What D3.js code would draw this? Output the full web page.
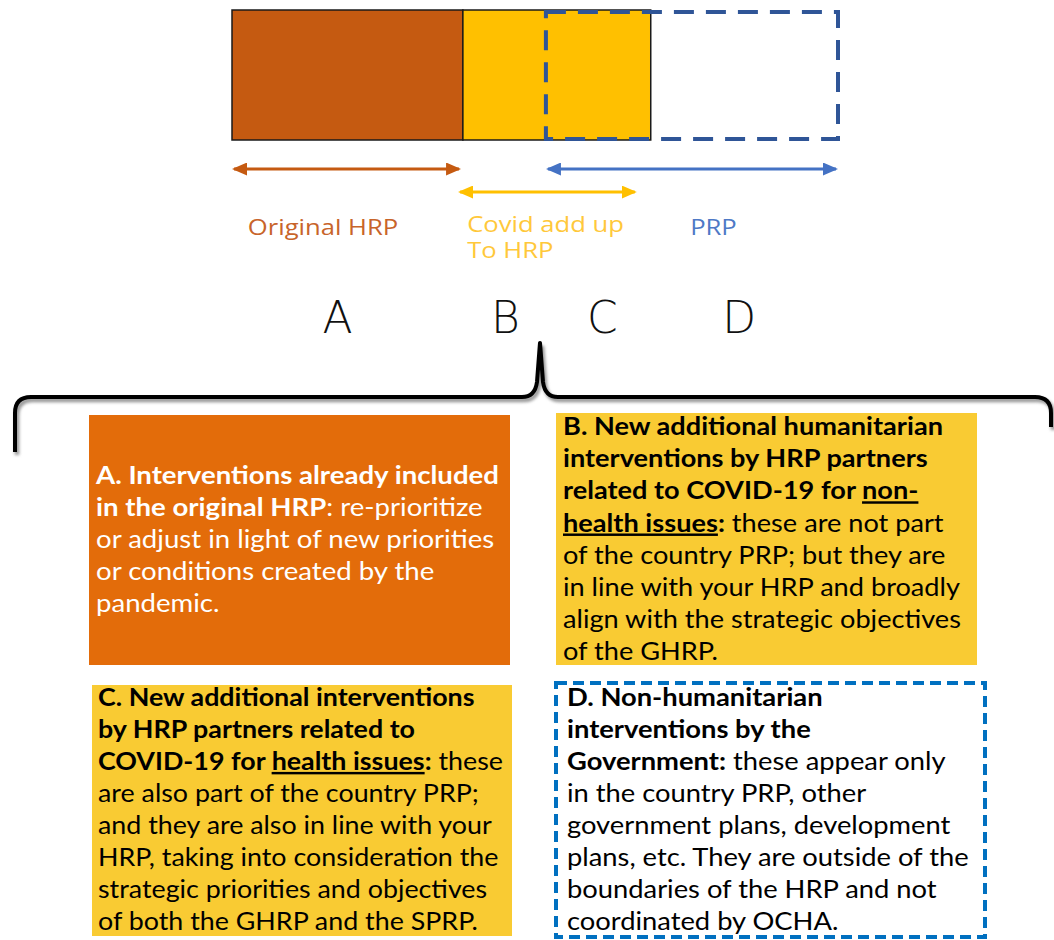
<!DOCTYPE html>
<html>
<head>
<meta charset="utf-8">
<script src="https://cdn.jsdelivr.net/npm/d3@7"></script>
<style>
  body { margin: 0; background: #fff; }
</style>
</head>
<body>
<div id="chart"></div>
<script>
// ---- data ----
const barKeys = ["hrp", "covid", "prp"];
const barStart = [0, 38.1, 51.8];
const barEnd = [38.1, 69.1, 100];
const arrowStart = [0, 37.3, 51.8];
const arrowEnd = [37.8, 66.8, 100];
const labelLines = [["Original HRP"], ["Covid add up", "To HRP"], ["PRP"]];
const labelPos = [2.6, 38.8, 75.6];
const letters = ["A", "B", "C", "D"];
const letterPos = [17.4, 45.1, 61.1, 83.7];

// text of the four boxes, one array per line, segments: t = text, b = bold, u = underline
const boxAText = [
  [{ t: "A. Interventions already included", b: 1 }],
  [{ t: "in the original HRP", b: 1 }, { t: ": re-prioritize" }],
  [{ t: "or adjust in light of new priorities" }],
  [{ t: "or conditions created by the" }],
  [{ t: "pandemic." }],
];
const boxBText = [
  [{ t: "B. New additional humanitarian", b: 1 }],
  [{ t: "interventions by HRP partners", b: 1 }],
  [{ t: "related to COVID-19 for ", b: 1 }, { t: "non-", b: 1, u: 1 }],
  [{ t: "health issues", b: 1, u: 1 }, { t: ":", b: 1 }, { t: " these are not part" }],
  [{ t: "of the country PRP; but they are" }],
  [{ t: "in line with your HRP and broadly" }],
  [{ t: "align with the strategic objectives" }],
  [{ t: "of the GHRP." }],
];
const boxCText = [
  [{ t: "C. New additional interventions", b: 1 }],
  [{ t: "by HRP partners related to", b: 1 }],
  [{ t: "COVID-19 for ", b: 1 }, { t: "health issues", b: 1, u: 1 }, { t: ":", b: 1 }, { t: " these" }],
  [{ t: "are also part of the country PRP;" }],
  [{ t: "and they are also in line with your" }],
  [{ t: "HRP, taking into consideration the" }],
  [{ t: "strategic priorities and objectives" }],
  [{ t: "of both the GHRP and the SPRP." }],
];
const boxDText = [
  [{ t: "D. Non-humanitarian", b: 1 }],
  [{ t: "interventions by the", b: 1 }],
  [{ t: "Government:", b: 1 }, { t: " these appear only" }],
  [{ t: "in the country PRP, other" }],
  [{ t: "government plans, development" }],
  [{ t: "plans, etc. They are outside of the" }],
  [{ t: "boundaries of the HRP and not" }],
  [{ t: "coordinated by OCHA." }],
];

// ---- styles / layout ----
const width = 1054, height = 940;
const barColor = { hrp: "#C55A11", covid: "#FFC000", prp: "#2F5597" };
const arrowColor = { hrp: "#C55A11", covid: "#FFC000", prp: "#4472C4" };
const labelColor = { hrp: "#C8642A", covid: "#FFC83A", prp: "#4E79C6" };
const textFont = "Lato, 'Open Sans', sans-serif";

const boxes = [
  { lines: boxAText, x: 89, y: 415, w: 421, h: 250, fill: "#E36C0A", color: "#fff", tx: 96, ty: 484, lh: 32, target: 403 },
  { lines: boxBText, x: 556, y: 413, w: 421, h: 252, fill: "#F9CB33", color: "#000", tx: 563, ty: 435, lh: 32.2, target: 398 },
  { lines: boxCText, x: 92, y: 685, w: 420, h: 251, fill: "#F9CB33", color: "#000", tx: 98, ty: 706, lh: 32, target: 405 },
  { lines: boxDText, x: 556, y: 683, w: 429, h: 254, fill: "#fff", color: "#000", tx: 567, ty: 706, lh: 32, target: 402, dashed: true },
];

const svg = d3.select("#chart").append("svg")
  .attr("width", width)
  .attr("height", height)
  .style("font-family", textFont);

const x = d3.scaleLinear().domain([0, 100]).range([232, 838]);

const defs = svg.append("defs");
barKeys.forEach((k) => {
  [["s", "M15,0 L0,6.5 L15,13 z"], ["e", "M0,0 L15,6.5 L0,13 z"]].forEach(([side, p]) => {
    defs.append("marker")
      .attr("id", `m-${k}-${side}`)
      .attr("markerUnits", "userSpaceOnUse")
      .attr("markerWidth", 15).attr("markerHeight", 13)
      .attr("refX", side === "s" ? 2 : 13).attr("refY", 6.5)
      .attr("orient", "0")
      .append("path").attr("d", p).attr("fill", arrowColor[k]);
  });
});
defs.append("filter").attr("id", "shadow")
  .append("feGaussianBlur").attr("stdDeviation", 1.6);

// top bar
const bars = barKeys.map((k, i) => ({ key: k, start: barStart[i], end: barEnd[i] }));
svg.selectAll(".seg")
  .data(bars.filter((d) => d.key !== "prp"))
  .join("rect")
  .attr("class", "seg")
  .attr("x", (d) => x(d.start))
  .attr("y", 10)
  .attr("width", (d) => x(d.end) - x(d.start))
  .attr("height", 130)
  .attr("fill", (d) => barColor[d.key])
  .attr("stroke", "#1a1a1a")
  .attr("stroke-width", 1.5);

svg.selectAll(".prp")
  .data(bars.filter((d) => d.key === "prp"))
  .join("rect")
  .attr("class", "prp")
  .attr("x", (d) => x(d.start))
  .attr("y", 12)
  .attr("width", (d) => x(d.end) - x(d.start))
  .attr("height", 127)
  .attr("fill", "none")
  .attr("stroke", barColor.prp)
  .attr("stroke-width", 4)
  .attr("stroke-dasharray", "20,12");

// arrows
const arrowY = [169, 192, 169];
barKeys.forEach((k, i) => {
  svg.append("line")
    .attr("x1", x(arrowStart[i]) + 2)
    .attr("x2", x(arrowEnd[i]) - 2)
    .attr("y1", arrowY[i]).attr("y2", arrowY[i])
    .attr("stroke", arrowColor[k])
    .attr("stroke-width", 3)
    .attr("marker-start", `url(#m-${k}-s)`)
    .attr("marker-end", `url(#m-${k}-e)`);
});

// range labels (slightly stretched, the source font is wider)
barKeys.forEach((k, i) => {
  const g = svg.append("g")
    .attr("transform", `translate(${x(labelPos[i])},0) scale(1.14,1)`);
  labelLines[i].forEach((s, j) => {
    g.append("text")
      .attr("x", 0)
      .attr("y", (labelLines[i].length > 1 ? 232 : 235) + j * 26)
      .attr("fill", labelColor[k])
      .style("font-family", "'Open Sans', sans-serif")
      .style("font-size", "22.5px")
      .text(s);
  });
});

// letters
svg.selectAll(".letter")
  .data(letters)
  .join("text")
  .attr("class", "letter")
  .attr("x", (d, i) => x(letterPos[i]))
  .attr("y", 333)
  .attr("text-anchor", "middle")
  .attr("fill", "#111")
  .style("font-family", "'DejaVu Sans', sans-serif")
  .style("font-weight", 300)
  .style("font-size", "44px")
  .text((d) => d);

// brace
const bracePath = "M15,452 L15,413 Q15,397 31,397 L522,397 Q535,397 537,382 L540,343 L543,382 Q545,397 558,397 L1035,397 Q1051,397 1051,413 L1051,427";
svg.append("path").attr("d", bracePath)
  .attr("transform", "translate(2,3)")
  .attr("fill", "none").attr("stroke", "#999").attr("stroke-width", 4.5)
  .attr("filter", "url(#shadow)");
svg.append("path").attr("d", bracePath)
  .attr("fill", "none").attr("stroke", "#000").attr("stroke-width", 4)
  .attr("stroke-linejoin", "round");

// boxes
boxes.forEach((bx) => {
  svg.append("rect")
    .attr("x", bx.x).attr("y", bx.y)
    .attr("width", bx.w).attr("height", bx.h)
    .attr("fill", bx.fill)
    .attr("stroke", bx.dashed ? "#0070C0" : "none")
    .attr("stroke-width", bx.dashed ? 4 : 0)
    .attr("stroke-dasharray", bx.dashed ? "11,6" : null);

  const g = svg.append("g");
  const texts = g.selectAll("text")
    .data(bx.lines)
    .join("text")
    .attr("x", 0)
    .attr("y", (d, i) => bx.ty + i * bx.lh)
    .attr("fill", bx.color)
    .style("font-size", "24.5px");
  texts.selectAll("tspan")
    .data((d) => d)
    .join("tspan")
    .style("font-weight", (d) => (d.b ? 700 : 400))
    .style("text-decoration", (d) => (d.u ? "underline" : null))
    .style("white-space", "pre")
    .text((d) => d.t);

  // squeeze/stretch so the widest line matches the picture
  const maxW = d3.max(texts.nodes(), (n) => n.getComputedTextLength());
  const k = bx.target / maxW;
  g.attr("transform", `translate(${bx.tx},0) scale(${k},1)`);
});
</script>
</body>
</html>
